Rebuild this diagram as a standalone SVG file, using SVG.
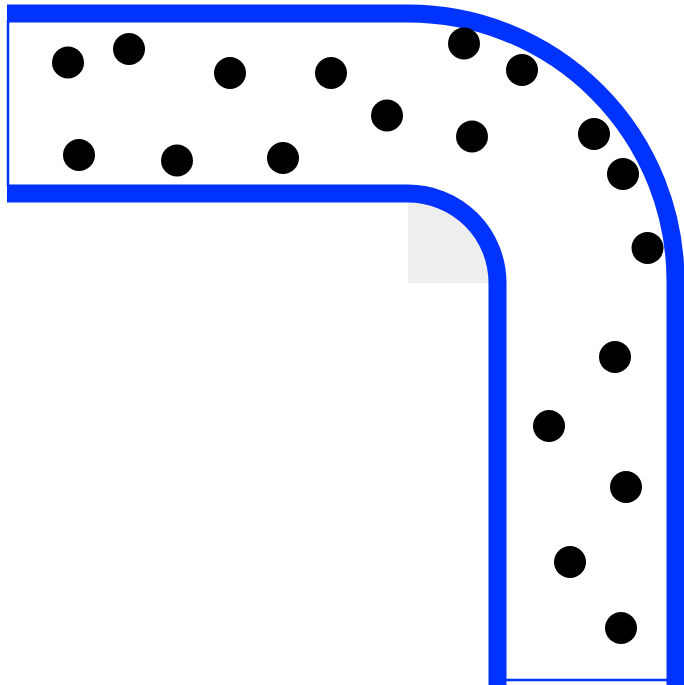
<svg xmlns="http://www.w3.org/2000/svg" width="684" height="685" viewBox="0 0 684 685">
  <style>
    .wall { fill: none; stroke: #0033ff; stroke-width: 18; }
    .end { fill: none; stroke: #0033ff; stroke-width: 2.5; }
    .dot { fill: #000000; }
  </style>
  <rect x="0" y="0" width="684" height="685" fill="#ffffff"/>
  <g id="pipe">
    <path d="M408,193.5 A89.5,89.5 0 0 1 497.5,283 L408,283 Z" fill="#eeeeee"/>
    <path class="wall" d="M7,13.5 L408,13.5 A267.5,267.5 0 0 1 675.5,281 L675.5,685"/>
    <path class="wall" d="M7,193.5 L408,193.5 A89.5,89.5 0 0 1 497.5,283 L497.5,685"/>
    <line class="end" x1="8" y1="20" x2="8" y2="186"/>
    <line class="end" x1="505" y1="680" x2="668" y2="680"/>
  </g>
  <g id="particles">
    <circle class="dot" cx="68" cy="62.5" r="16"/>
    <circle class="dot" cx="129" cy="49" r="16"/>
    <circle class="dot" cx="230" cy="73" r="16"/>
    <circle class="dot" cx="331" cy="73" r="16"/>
    <circle class="dot" cx="464" cy="43.5" r="16"/>
    <circle class="dot" cx="522" cy="70" r="16"/>
    <circle class="dot" cx="387" cy="115.5" r="16"/>
    <circle class="dot" cx="472" cy="136.5" r="16"/>
    <circle class="dot" cx="594" cy="134" r="16"/>
    <circle class="dot" cx="623" cy="174" r="16"/>
    <circle class="dot" cx="647.5" cy="248" r="16"/>
    <circle class="dot" cx="79" cy="155" r="16"/>
    <circle class="dot" cx="177" cy="160.5" r="16"/>
    <circle class="dot" cx="283" cy="158" r="16"/>
    <circle class="dot" cx="615" cy="357" r="16"/>
    <circle class="dot" cx="549" cy="426" r="16"/>
    <circle class="dot" cx="626" cy="487" r="16"/>
    <circle class="dot" cx="570" cy="562" r="16"/>
    <circle class="dot" cx="621" cy="628" r="16"/>
  </g>
</svg>
